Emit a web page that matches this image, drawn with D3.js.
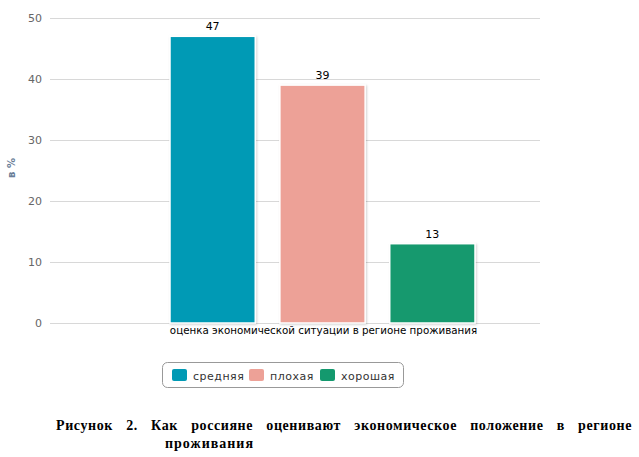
<!DOCTYPE html>
<html><head><meta charset="utf-8">
<script src="https://cdn.jsdelivr.net/npm/d3@7"></script>
<style>body{margin:0;background:#fff}svg{display:block}</style>
</head><body>
<svg id="c" width="639" height="457"></svg>
<script>
const categories = ["оценка экономической ситуации в регионе проживания"];
const series = ["средняя", "плохая", "хорошая"];
const values = [47, 39, 13];
const colors = ["#019ab5", "#eda197", "#14996e"];
const yTicks = [0, 10, 20, 30, 40, 50];
const yTitle = "в %";
const captionLine1 = "Рисунок 2. Как россияне оценивают экономическое положение в регионе";
const captionLine2 = "проживания";

const svg = d3.select("#c");
const font = "DejaVu Sans, Verdana, sans-serif";
const serif = "Liberation Serif, Times New Roman, serif";

const defs = svg.append("defs");
const f = defs.append("filter").attr("id","sh").attr("x","-10%").attr("y","-10%").attr("width","130%").attr("height","130%");
f.append("feDropShadow").attr("dx",1).attr("dy",1).attr("stdDeviation",1).attr("flood-color","#000").attr("flood-opacity",0.18);

const y = d3.scaleLinear().domain([0, 50]).range([323, 18]);
const x0 = d3.scaleBand().domain(categories).range([105, 540]).padding(0);
const x1 = d3.scaleBand().domain(series).range([170, 475]).paddingInner(0.224).paddingOuter(0);

// grid
svg.append("g").selectAll("line").data(yTicks).join("line")
  .attr("x1", 50).attr("x2", 540)
  .attr("y1", d => Math.round(y(d)) + 0.5).attr("y2", d => Math.round(y(d)) + 0.5)
  .attr("stroke", "#d8d8d8").attr("stroke-width", 1);

// y axis labels
const yAxis = d3.axisLeft(y).tickValues(yTicks).tickSize(0).tickPadding(0);
const ya = svg.append("g").attr("transform", "translate(42,0)").call(yAxis);
ya.select(".domain").remove();
ya.selectAll("text").attr("font-family", font).attr("font-size", 11).attr("fill", "#666").attr("dy","0.32em");

// y title
svg.append("text").attr("transform", "translate(15,168) rotate(-90)")
  .attr("text-anchor", "middle").attr("font-family", font).attr("font-size", 10)
  .attr("font-weight", "bold").attr("fill", "#6a7e98").text(yTitle);

// bars
const bars = svg.append("g");
bars.selectAll("rect").data(values).join("rect")
  .attr("x", (d,i) => x1(series[i]))
  .attr("y", d => y(d))
  .attr("width", x1.bandwidth())
  .attr("height", d => y(0) - y(d))
  .attr("fill", (d,i) => colors[i])
  .attr("stroke", "#fff").attr("stroke-width", 1.5)
  .attr("filter", "url(#sh)");

bars.selectAll("text").data(values).join("text")
  .attr("x", (d,i) => x1(series[i]) + x1.bandwidth()/2)
  .attr("y", d => y(d) - 6)
  .attr("text-anchor", "middle").attr("font-family", font).attr("font-size", 11)
  .attr("fill", "#000").text(d => d);

// x category label
svg.append("text").attr("x", x0(categories[0]) + x0.bandwidth()/2 + 1).attr("y", 334)
  .attr("text-anchor","middle").attr("font-family", font).attr("font-size", 10.3)
  .attr("fill", "#000").text(categories[0]);

// legend
const lg = svg.append("g");
lg.append("rect").attr("x", 162.5).attr("y", 362.5).attr("width", 241).attr("height", 25)
  .attr("rx", 5).attr("fill", "#fff").attr("stroke", "#999").attr("stroke-width", 1);
const legX = [172, 249, 320];
series.forEach((s, i) => {
  lg.append("rect").attr("x", legX[i]).attr("y", 369).attr("width", 15).attr("height", 12)
    .attr("rx", 2).attr("fill", colors[i]);
  lg.append("text").attr("x", legX[i] + 21).attr("y", 379.5).attr("font-family", font)
    .attr("font-size", 11).attr("letter-spacing", 0.5).attr("fill", "#333").text(s);
});

// caption (justified first line via word spacing)
const c1 = svg.append("text").attr("x", 56).attr("y", 430).attr("font-family", serif)
  .attr("font-size", 14).attr("font-weight", "bold").attr("fill", "#000")
  .attr("letter-spacing", 0.6).text(captionLine1);
const len1 = c1.node().getComputedTextLength();
const nGaps = captionLine1.split(" ").length - 1;
c1.attr("word-spacing", Math.max(0, (576 - len1) / nGaps));
svg.append("text").attr("x", 165).attr("y", 448).attr("font-family", serif)
  .attr("font-size", 14).attr("font-weight", "bold").attr("fill", "#000")
  .attr("letter-spacing", 1).text(captionLine2);
</script>
</body></html>
